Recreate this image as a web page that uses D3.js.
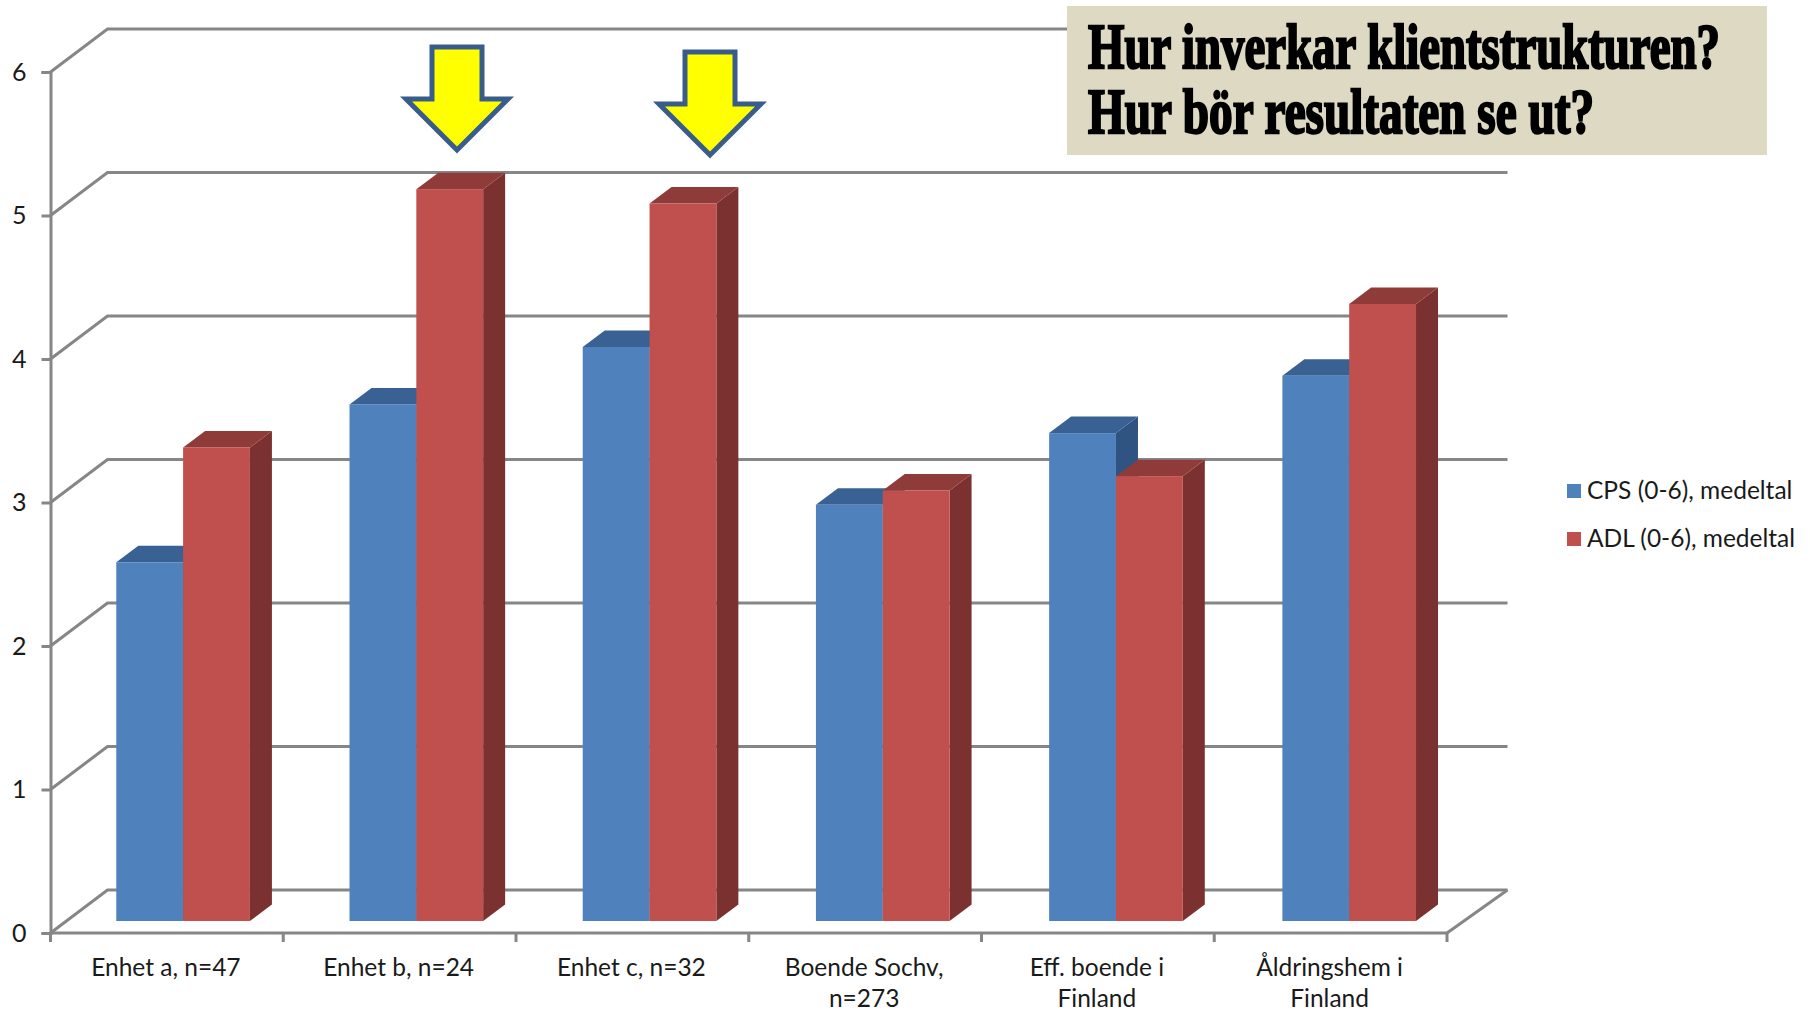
<!DOCTYPE html>
<html><head><meta charset="utf-8">
<script src="https://cdn.jsdelivr.net/npm/d3@7/dist/d3.min.js"></script>
<style>html,body{margin:0;padding:0;background:#fff}svg{display:block}</style>
</head><body><div id="c"></div>
<script>
const categories = ["Enhet a, n=47","Enhet b, n=24","Enhet c, n=32","Boende Sochv, n=273","Eff. boende i Finland","Åldringshem i Finland"];
const cpsValues = [2.5,3.6,4.0,2.9,3.4,3.8];
const adlValues = [3.3,5.1,5.0,3.0,3.1,4.3];
const seriesNames = ["CPS (0-6), medeltal","ADL (0-6), medeltal"];
const yTicks = [0,1,2,3,4,5,6];
const titleLines = ["Hur inverkar klientstrukturen?","Hur bör resultaten se ut?"];

const W=1810,H=1011;
const svg=d3.select("#c").append("svg").attr("width",W).attr("height",H).attr("viewBox",`0 0 ${W} ${H}`);
const FONT="Lato, 'Open Sans', sans-serif", GRID="#868686", GW=3;
// projection constants of the pseudo-3D box
const wallDx=57, wallDy=43, barFrontDy=12, depthDx=22, depthDy=16.5;

const x=d3.scaleBand().domain(categories).range([50.5,1447]);
const xWall=d3.scaleLinear().domain([0,1]).range([50.5+wallDx,1507.5]);
const xBars=d3.scaleBand().domain(categories).range([66.5,1465.8]);
const series=d3.scaleBand().domain(seriesNames).range([0,xBars.bandwidth()]).paddingInner(0).paddingOuter(0.745);
const y=d3.scaleLinear().domain([0,6]).range([933,72]);

// walls & gridlines
const grid=svg.append("g").attr("fill","none").attr("stroke",GRID).attr("stroke-width",GW);
yTicks.forEach(t=>{
  const p=d3.path(); p.moveTo(x.range()[0],y(t)); p.lineTo(xWall(0),y(t)-wallDy); p.lineTo(xWall(1),y(t)-wallDy);
  grid.append("path").attr("d",p.toString());
});
{const p=d3.path(); p.moveTo(x.range()[1],y(0)); p.lineTo(xWall(1),y(0)-wallDy); grid.append("path").attr("d",p.toString());}

// y axis
const yAxis=d3.axisLeft(y).tickValues(yTicks).tickSize(9).tickPadding(15).tickFormat(d3.format("d"));
const yg=svg.append("g").attr("transform",`translate(${x.range()[0]},0)`).call(yAxis);
yg.select(".domain").attr("stroke",GRID).attr("stroke-width",GW);
yg.selectAll(".tick line").attr("stroke",GRID).attr("stroke-width",GW);
yg.selectAll("text").attr("font-family",FONT).attr("font-size",25).attr("fill","#1a1a1a");

// x axis
const xAxis=d3.axisBottom(x).tickSize(0).tickPadding(0);
const xg=svg.append("g").attr("transform",`translate(0,${y(0)})`).call(xAxis);
xg.select(".domain").attr("stroke",GRID).attr("stroke-width",GW).attr("d",`M${x.range()[0]},0H${x.range()[1]}`);
xg.selectAll(".tick line").remove();
xg.selectAll(".sep").data(d3.range(categories.length+1)).join("line").attr("class","sep")
  .attr("x1",i=>x.range()[0]+i*x.step()).attr("x2",i=>x.range()[0]+i*x.step())
  .attr("y1",0).attr("y2",9).attr("stroke",GRID).attr("stroke-width",GW);
xg.selectAll(".tick text").attr("font-family",FONT).attr("font-size",24.5).attr("fill","#1a1a1a").attr("dy",null).attr("y",43)
  .each(function(d){
    const t=d3.select(this); const words=d.split(" "); t.text(null);
    let line=[],ts=t.append("tspan").attr("x",-1),n=0;
    words.forEach(w=>{
      line.push(w); ts.text(line.join(" "));
      if(ts.node().getComputedTextLength()>190 && line.length>1){
        line.pop(); ts.text(line.join(" ")); line=[w]; n++;
        ts=t.append("tspan").attr("x",-1).attr("dy",31).text(w);
      }
    });
  });

// bars
const fills=[{front:"#4F81BD",top:"#3A6194",side:"#2F5482"},{front:"#C0504D",top:"#8F3B39",side:"#7B3130"}];
[cpsValues,adlValues].forEach((vals,si)=>{
  const c=fills[si], bw=series.bandwidth();
  const g=svg.append("g").selectAll("g").data(vals).join("g")
    .attr("transform",(v,i)=>`translate(${xBars(categories[i])+series(seriesNames[si])},${-barFrontDy})`);
  g.append("path").attr("fill",c.side).attr("d",v=>{
    const p=d3.path(),t=y(v),b=y(0);
    p.moveTo(bw,t);p.lineTo(bw+depthDx,t-depthDy);p.lineTo(bw+depthDx,b-depthDy);p.lineTo(bw,b);p.closePath();return p.toString();});
  g.append("path").attr("fill",c.top).attr("d",v=>{
    const p=d3.path(),t=y(v);
    p.moveTo(0,t);p.lineTo(depthDx,t-depthDy);p.lineTo(bw+depthDx,t-depthDy);p.lineTo(bw,t);p.closePath();return p.toString();});
  g.append("rect").attr("fill",c.front).attr("x",0).attr("width",bw).attr("y",v=>y(v)).attr("height",v=>y(0)-y(v));
});

// legend
const lg=svg.append("g").selectAll("g").data(seriesNames).join("g").attr("transform",(d,i)=>`translate(1567,${484+i*48})`);
lg.append("rect").attr("width",14).attr("height",14).attr("fill",(d,i)=>fills[i].front);
lg.append("text").attr("x",20).attr("y",15).attr("font-family",FONT).attr("font-size",24.5).attr("fill","#1a1a1a").text(d=>d);

// title box
svg.append("rect").attr("x",1067).attr("y",6).attr("width",700).attr("height",149).attr("fill","#DDD9C3");
const titleWidths=[632,506];
svg.selectAll(".ttl").data(titleLines).join("text").attr("class","ttl")
  .attr("x",1088).attr("y",(d,i)=>68+i*64.5)
  .attr("font-family","'Liberation Serif',serif").attr("font-weight","bold").attr("font-size",64)
  .attr("fill","#000").attr("stroke","#000").attr("stroke-width",2.4)
  .attr("textLength",(d,i)=>titleWidths[i]).attr("lengthAdjust","spacingAndGlyphs").text(d=>d);

// arrows
const arrows=[{cx:457,top:47},{cx:710,top:52}];
const arrowLine=d3.line();
svg.selectAll(".arrow").data(arrows).join("path").attr("class","arrow")
  .attr("fill","#FFFF00").attr("stroke","#385D8A").attr("stroke-width",5).attr("stroke-linejoin","miter")
  .attr("d",a=>arrowLine([[a.cx-25,a.top],[a.cx+25,a.top],[a.cx+25,a.top+52],[a.cx+51,a.top+52],[a.cx,a.top+103],[a.cx-51,a.top+52],[a.cx-25,a.top+52]])+"Z");
</script></body></html>
